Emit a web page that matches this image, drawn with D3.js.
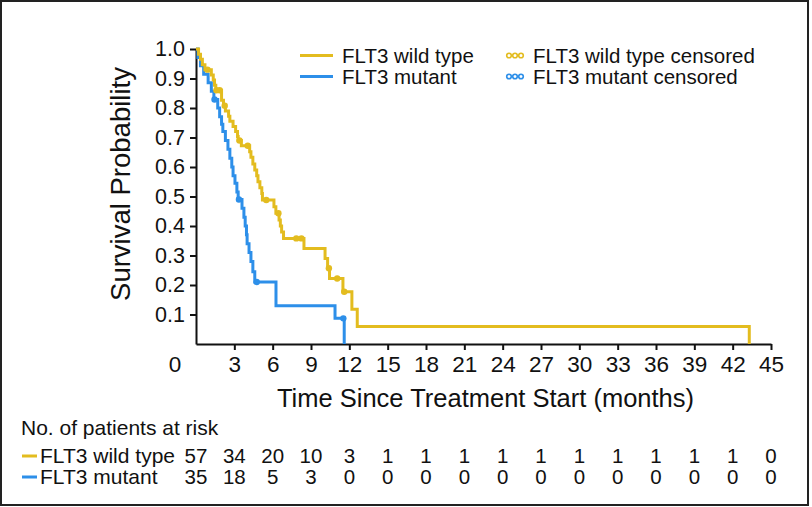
<!DOCTYPE html>
<html>
<head>
<meta charset="utf-8">
<script src="https://cdn.jsdelivr.net/npm/d3@7"></script>
<style>
  html, body { margin: 0; padding: 0; background: #fff; }
  svg { display: block; font-family: "Liberation Sans", Arial, Helvetica, sans-serif; }
</style>
</head>
<body>
<svg id="chart" width="812" height="507"></svg>
<script>
// ---- data ----
const timeTicks = [3, 6, 9, 12, 15, 18, 21, 24, 27, 30, 33, 36, 39, 42, 45];
const riskTimes = [0, 3, 6, 9, 12, 15, 18, 21, 24, 27, 30, 33, 36, 39, 42, 45];
const riskWild = [57, 34, 20, 10, 3, 1, 1, 1, 1, 1, 1, 1, 1, 1, 1, 0];
const riskMutant = [35, 18, 5, 3, 0, 0, 0, 0, 0, 0, 0, 0, 0, 0, 0, 0];
const yTicks = [0.1, 0.2, 0.3, 0.4, 0.5, 0.6, 0.7, 0.8, 0.9, 1.0];

// [time (months), survival after the step]
const wildSteps = [
  [0, 1], [0.2, 0.982], [0.35, 0.965], [0.5, 0.947], [0.7, 0.93],
  [1.2, 0.912], [1.35, 0.895], [1.45, 0.877], [1.55, 0.86], [2.0, 0.826],
  [2.15, 0.808], [2.3, 0.79], [2.55, 0.772], [2.65, 0.755], [2.9, 0.737],
  [3.1, 0.72], [3.25, 0.703], [3.3, 0.69], [3.55, 0.672], [4.2, 0.652],
  [4.3, 0.633], [4.45, 0.61], [4.6, 0.59], [4.75, 0.57], [4.85, 0.55],
  [5.0, 0.53], [5.15, 0.51], [5.2, 0.488], [6.1, 0.465], [6.25, 0.443],
  [6.5, 0.42], [6.6, 0.40], [6.7, 0.38], [6.85, 0.358], [8.45, 0.324],
  [10.1, 0.29], [10.3, 0.257], [10.45, 0.222], [11.5, 0.177], [12.2, 0.118],
  [12.62, 0.059], [43.3, 0]
];
const wildCensor = [0.9, 1.6, 1.85, 2.25, 3.4, 4.05, 5.5, 6.45, 7.85, 8.25, 10.4, 11.05, 11.6];

const mutantSteps = [
  [0, 1], [0.15, 0.971], [0.35, 0.943], [0.6, 0.914], [0.95, 0.886],
  [1.2, 0.857], [1.4, 0.829], [1.7, 0.80], [1.85, 0.77], [2.0, 0.745],
  [2.1, 0.72], [2.3, 0.69], [2.5, 0.66], [2.65, 0.63], [2.8, 0.60],
  [2.9, 0.57], [3.05, 0.545], [3.2, 0.515], [3.3, 0.49], [3.6, 0.46],
  [3.75, 0.43], [3.85, 0.40], [3.95, 0.37], [4.0, 0.34], [4.15, 0.31],
  [4.3, 0.28], [4.45, 0.245], [4.6, 0.21], [6.26, 0.13], [10.88, 0.087],
  [11.6, 0]
];
const mutantCensor = [1.45, 3.36, 4.75, 11.53];

const seriesNames = ["FLT3 wild type", "FLT3 mutant"];
const censorNames = ["FLT3 wild type censored", "FLT3 mutant censored"];
const colors = ["#E3BC1F", "#2D8FE9"];

// ---- drawing ----
const svg = d3.select("#chart");
const x = d3.scaleLinear().domain([0, 45]).range([196, 771]);
const y = d3.scaleLinear().domain([0, 1]).range([344, 49]);

// frame
svg.append("rect").attr("x", 1).attr("y", 1).attr("width", 807).attr("height", 504)
  .attr("fill", "none").attr("stroke", "#222").attr("stroke-width", 2);

// axes
const xAxis = svg.append("g").attr("transform", `translate(0,${y(0)})`)
  .call(d3.axisBottom(x).tickValues(timeTicks).tickSize(6).tickSizeOuter(0).tickPadding(6));
xAxis.selectAll("text").attr("font-size", 22.5).attr("fill", "#111");
svg.append("text").attr("x", 175).attr("y", y(0) + 12).attr("dy", "0.71em")
  .attr("text-anchor", "middle").attr("font-size", 22.5).attr("fill", "#111").text("0");

const yAxis = svg.append("g").attr("transform", `translate(${x(0)},0)`)
  .call(d3.axisLeft(y).tickValues(yTicks).tickFormat(d3.format(".1f")).tickSize(6).tickSizeOuter(0).tickPadding(5));
yAxis.selectAll("text").attr("font-size", 21.5).attr("fill", "#111");
svg.selectAll(".domain, .tick line").attr("stroke", "#111").attr("stroke-width", 2);

// axis titles
svg.append("text").attr("x", (x(0) + x(45)) / 2 + 2).attr("y", 398).attr("dy", "0.35em")
  .attr("text-anchor", "middle").attr("font-size", 25.5).attr("fill", "#111")
  .text("Time Since Treatment Start (months)");
svg.append("text").attr("transform", "translate(120,184) rotate(-90)")
  .attr("dy", "0.35em").attr("text-anchor", "middle").attr("font-size", 27.5).attr("fill", "#111")
  .text("Survival Probability");

// curves
const line = d3.line().x(d => x(d[0])).y(d => y(d[1])).curve(d3.curveStepAfter);
function survAt(steps, t) {
  let s = 1;
  for (const d of steps) { if (d[0] <= t) s = d[1]; }
  return s;
}
const allSteps = [wildSteps, mutantSteps];
const allCensor = [wildCensor, mutantCensor];
[1, 0].forEach(i => {
  svg.append("path").datum(allSteps[i]).attr("d", line)
    .attr("fill", "none").attr("stroke", colors[i]).attr("stroke-width", 3)
    .attr("stroke-linejoin", "miter");
  svg.append("g").selectAll("circle").data(allCensor[i]).join("circle")
    .attr("cx", d => x(d)).attr("cy", d => y(survAt(allSteps[i], d)))
    .attr("r", 3.2).attr("fill", colors[i]);
});

// legend
const legY = [55.5, 76.5];
seriesNames.forEach((name, i) => {
  svg.append("line").attr("x1", 300).attr("x2", 333).attr("y1", legY[i]).attr("y2", legY[i])
    .attr("stroke", colors[i]).attr("stroke-width", 3);
  svg.append("text").attr("x", 342).attr("y", legY[i]).attr("dy", "0.35em")
    .attr("font-size", 20.5).attr("fill", "#111").text(name);
  [509, 515, 521].forEach(cx => {
    svg.append("circle").attr("cx", cx).attr("cy", legY[i]).attr("r", 2.3)
      .attr("fill", "#fff").attr("stroke", colors[i]).attr("stroke-width", 1.6);
  });
  svg.append("text").attr("x", 533).attr("y", legY[i]).attr("dy", "0.35em")
    .attr("font-size", 20.5).attr("fill", "#111").text(censorNames[i]);
});

// risk table
svg.append("text").attr("x", 21).attr("y", 428).attr("dy", "0.35em")
  .attr("font-size", 21).attr("fill", "#111").text("No. of patients at risk");
const rowY = [456, 477];
const risks = [riskWild, riskMutant];
seriesNames.forEach((name, i) => {
  svg.append("line").attr("x1", 22).attr("x2", 37).attr("y1", rowY[i]).attr("y2", rowY[i])
    .attr("stroke", colors[i]).attr("stroke-width", 3);
  svg.append("text").attr("x", 40).attr("y", rowY[i]).attr("dy", "0.35em")
    .attr("font-size", 21).attr("fill", "#111").text(name);
  svg.append("g").selectAll("text").data(riskTimes).join("text")
    .attr("x", d => x(d)).attr("y", rowY[i]).attr("dy", "0.35em")
    .attr("text-anchor", "middle").attr("font-size", 20.5).attr("fill", "#111")
    .text((d, j) => risks[i][j]);
});
</script>
</body>
</html>
